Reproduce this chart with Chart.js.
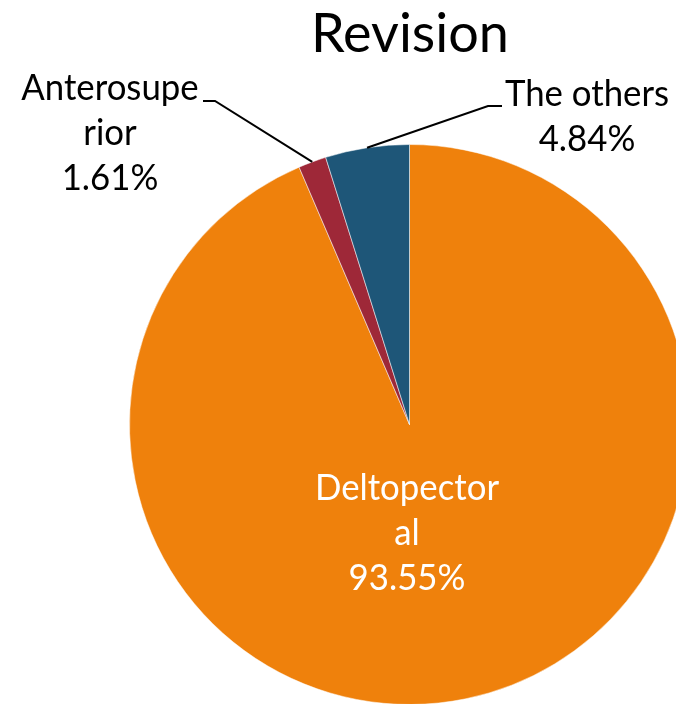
<!DOCTYPE html>
<html>
<head>
<meta charset="utf-8">
<script src="https://cdn.jsdelivr.net/npm/chart.js@4.4.1/dist/chart.umd.min.js"></script>
<style>
  html, body { margin: 0; padding: 0; background: #ffffff; overflow: hidden; }
  #wrap { position: relative; width: 676px; height: 704px; overflow: hidden; }
  #c { position: absolute; left: 0; top: 0; }
</style>
</head>
<body>
<div id="wrap"><canvas id="c" width="820" height="800"></canvas></div>
<script>
const chartTitle = "Revision";
const categories = ["Deltopectoral", "Anterosuperior", "The others"];
const labelLines = [["Deltopector", "al"], ["Anterosupe", "rior"], ["The others"]];
const values = [93.55, 1.61, 4.84];
const percentLabels = ["93.55%", "1.61%", "4.84%"];
const colors = ["#EF810C", "#9E2838", "#1E5678"];

const FONT = "Lato, 'Open Sans', sans-serif";

const labelPlugin = {
  id: "pieLabels",
  afterDraw(chart) {
    const ctx = chart.ctx;
    const meta = chart.getDatasetMeta(0);
    ctx.save();
    // title
    ctx.fillStyle = "#000000";
    ctx.textAlign = "center";
    ctx.textBaseline = "alphabetic";
    ctx.font = "400 54px " + FONT;
    ctx.fillText(chartTitle, 410, 52);

    const lh = 45;
    const sx = 0.94;
    function textAt(t, x, y) {
      ctx.save();
      ctx.translate(x, y);
      ctx.scale(sx, 1);
      ctx.fillText(t, 0, 0);
      ctx.restore();
    }
    ctx.font = "400 37px " + FONT;

    function edgePoint(i) {
      const a = meta.data[i];
      const mid = (a.startAngle + a.endAngle) / 2;
      return [a.x + Math.cos(mid) * a.outerRadius, a.y + Math.sin(mid) * a.outerRadius];
    }

    // Deltopectoral (inside, white)
    ctx.fillStyle = "#ffffff";
    let lines = labelLines[0].concat([percentLabels[0]]);
    lines.forEach((t, k) => textAt(t, 407, 500 + k * lh));

    // Anterosuperior (outside, left)
    ctx.fillStyle = "#000000";
    lines = labelLines[1].concat([percentLabels[1]]);
    lines.forEach((t, k) => textAt(t, 110, 100 + k * lh));

    // The others (outside, right)
    lines = labelLines[2].concat([percentLabels[2]]);
    lines.forEach((t, k) => textAt(t, 587, 106 + k * lh));

    // leader lines
    ctx.strokeStyle = "#000000";
    ctx.lineWidth = 2;
    let p = edgePoint(1);
    ctx.beginPath();
    ctx.moveTo(203, 101);
    ctx.lineTo(215, 101);
    ctx.lineTo(p[0], p[1]);
    ctx.stroke();

    p = edgePoint(2);
    ctx.beginPath();
    ctx.moveTo(502, 106);
    ctx.lineTo(488, 106);
    ctx.lineTo(p[0], p[1]);
    ctx.stroke();
    ctx.restore();
  }
};

new Chart(document.getElementById("c"), {
  type: "pie",
  data: {
    labels: categories,
    datasets: [{
      data: values,
      backgroundColor: colors,
      borderColor: "rgba(255,255,255,0.5)",
      borderWidth: 1
    }]
  },
  options: {
    responsive: false,
    animation: false,
    layout: { padding: { left: 129, top: 144, right: 130, bottom: 95 } },
    plugins: {
      legend: { display: false },
      tooltip: { enabled: false },
      title: { display: false }
    }
  },
  plugins: [labelPlugin]
});
</script>
</body>
</html>
